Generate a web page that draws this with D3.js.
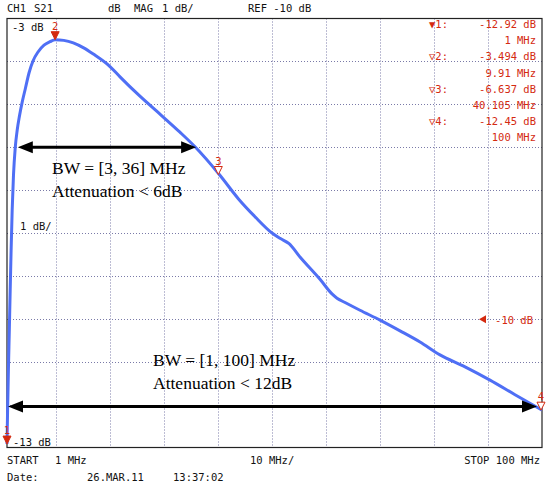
<!DOCTYPE html>
<html>
<head>
<meta charset="utf-8">
<script src="https://cdn.jsdelivr.net/npm/d3@7"></script>
<style>
  body { margin: 0; background: #fff; }
  svg { display: block; }
</style>
</head>
<body>
<script>
// trace: S21 magnitude (dB) vs frequency (MHz)
const freqMHz = [1.0, 1.11, 1.26, 1.43, 1.59, 1.76, 1.96, 2.2, 2.52, 2.89, 3.31, 3.81, 4.42,
  5.07, 5.81, 6.74, 7.85, 8.96, 9.91, 11.5, 13.27, 15.1, 16.97, 20.06, 21.91, 25.5, 29.5,
  33.0, 35.79, 40.29, 43.8, 46.89, 50.04, 51.6, 53.2, 55.22, 58.92, 61.14, 62.07, 63.55,
  66.32, 70.02, 73.73, 77.43, 81.13, 85.76, 90.38, 95.01, 100];
const s21dB = [-12.92, -12.13, -11.19, -10.26, -9.33, -8.4, -7.46, -6.65, -6.02, -5.6, -5.27,
  -4.95, -4.62, -4.27, -3.99, -3.78, -3.62, -3.54, -3.494, -3.51, -3.57, -3.68, -3.83, -4.12,
  -4.36, -4.8, -5.25, -5.65, -5.99, -6.637, -7.2, -7.62, -8.0, -8.13, -8.25, -8.56, -9.08,
  -9.42, -9.52, -9.62, -9.8, -10.03, -10.28, -10.54, -10.84, -11.12, -11.43, -11.77, -12.13];

// markers
const markerIds = ["1", "2", "3", "4"];
const markerFreq = [1, 9.91, 40.105, 100];
const markerDb = [-12.92, -3.494, -6.637, -12.13];
const markerFilled = [true, true, false, false];
const readoutDb = ["-12.92 dB", "-3.494 dB", "-6.637 dB", "-12.45 dB"];
const readoutFreq = ["1 MHz", "9.91 MHz", "40.105 MHz", "100 MHz"];

// grid
const xGrid = [10, 20, 30, 40, 50, 60, 70, 80, 90];
const yGrid = [-4, -5, -6, -7, -8, -9, -10, -11, -12];

// bandwidth annotations
const bwRanges = [[3, 36], [1, 100]];
const bwLevels = [-6, -12];
const bwLabels = [["BW = [3, 36] MHz", "Attenuation < 6dB"], ["BW = [1, 100] MHz", "Attenuation < 12dB"]];

const width = 546, height = 486;
const red = "#d42a10";
const uiFont = "'DejaVu Sans Mono', monospace";

const x = d3.scaleLinear().domain([1, 100]).range([7, 542]);
const y = d3.scaleLinear().domain([-3, -13]).range([18.5, 447.5]);

const svg = d3.select("body").append("svg")
  .attr("width", width)
  .attr("height", height);

// dotted grid
svg.append("g").selectAll("line")
  .data(xGrid).join("line")
  .attr("x1", d => Math.round(x(d)) + 0.5).attr("x2", d => Math.round(x(d)) + 0.5)
  .attr("y1", y(-3)).attr("y2", y(-13))
  .attr("stroke", "#7a7aa8").attr("stroke-width", 1).attr("stroke-dasharray", "1,2");
svg.append("g").selectAll("line")
  .data(yGrid).join("line")
  .attr("y1", d => Math.round(y(d)) + 0.5).attr("y2", d => Math.round(y(d)) + 0.5)
  .attr("x1", x(1)).attr("x2", x(100))
  .attr("stroke", "#7a7aa8").attr("stroke-width", 1).attr("stroke-dasharray", "1,2");

// frame
svg.append("rect")
  .attr("x", x(1)).attr("y", y(-3))
  .attr("width", x(100) - x(1)).attr("height", y(-13) - y(-3))
  .attr("fill", "none").attr("stroke", "#222").attr("stroke-width", 1.2);

// header & footer text
const ui = (tx, ty, s, anchor = "start", color = "#111") => svg.append("text")
  .attr("x", tx).attr("y", ty).attr("text-anchor", anchor)
  .attr("font-family", uiFont).attr("font-size", 10.5).attr("fill", color)
  .attr("xml:space", "preserve").style("white-space", "pre").text(s);

ui(7, 12, "CH1");
ui(34, 12, "S21");
ui(108, 12, "dB");
ui(134, 12, "MAG");
ui(162, 12, "1 dB/");
ui(248, 12, "REF -10 dB");
ui(7, 464, "START");
ui(55, 464, "1 MHz");
ui(250, 464, "10 MHz/");
ui(540, 464, "STOP 100 MHz", "end");
ui(7, 481, "Date:");
ui(87, 481, "26.MAR.11");
ui(173, 481, "13:37:02");
ui(12, 31, "-3 dB");
ui(20, 230, "1 dB/");
ui(13, 446, "-13 dB");

// marker readouts
markerIds.forEach((id, i) => {
  const ty = 28 + i * 32.4;
  const tri = markerFilled[i] && i === 0 ? "\u25BC" : "\u25BD";
  ui(429, ty, tri + id + ":", "start", red);
  ui(536, ty, readoutDb[i], "end", red);
  ui(536, ty + 16.2, readoutFreq[i], "end", red);
});

// reference level marker
ui(533, 324, "-10 dB", "end", red);
svg.append("path")
  .attr("d", `M${479},${y(-10) + 0.5} l7,-4 l0,8 z`)
  .attr("fill", red);

// trace
const line = d3.line()
  .x(d => x(d[0]))
  .y(d => y(d[1]))
  .curve(d3.curveMonotoneX);
svg.append("path")
  .datum(d3.zip(freqMHz, s21dB))
  .attr("d", line)
  .attr("fill", "none")
  .attr("stroke", "#4f6ff5")
  .attr("stroke-width", 3)
  .attr("stroke-linejoin", "round");

// trace markers
markerIds.forEach((id, i) => {
  const mx = Math.min(x(markerFreq[i]), 541);
  const my = Math.min(y(markerDb[i]), 446);
  svg.append("path")
    .attr("d", `M${mx},${my} l-4,-8 l8,0 z`)
    .attr("fill", markerFilled[i] ? red : "#fff")
    .attr("stroke", red).attr("stroke-width", 1);
  svg.append("text")
    .attr("x", mx).attr("y", my - 10)
    .attr("text-anchor", "middle")
    .attr("font-family", uiFont).attr("font-size", 10.5)
    .attr("fill", red).text(id);
});

// double-headed bandwidth arrows
const arrow = (x1, x2, yy) => {
  const g = svg.append("g");
  g.append("line")
    .attr("x1", x1 + 10).attr("x2", x2 - 10).attr("y1", yy).attr("y2", yy)
    .attr("stroke", "#000").attr("stroke-width", 3);
  g.append("path").attr("d", `M${x1},${yy} l15,-6 l0,12 z`).attr("fill", "#000");
  g.append("path").attr("d", `M${x2},${yy} l-15,-6 l0,12 z`).attr("fill", "#000");
};
arrow(x(bwRanges[0][0]), x(bwRanges[0][1]), y(bwLevels[0]));
arrow(x(bwRanges[1][0]) + 1, x(bwRanges[1][1]) - 5, y(bwLevels[1]) + 2);

const serif = (tx, ty, s) => svg.append("text")
  .attr("x", tx).attr("y", ty)
  .attr("font-family", "'Liberation Serif', 'Times New Roman', serif")
  .attr("font-size", 17.5).attr("fill", "#000").text(s);

serif(52, 174, bwLabels[0][0]);
serif(52, 197, bwLabels[0][1]);
serif(153, 366, bwLabels[1][0]);
serif(153, 389, bwLabels[1][1]);
</script>
</body>
</html>
